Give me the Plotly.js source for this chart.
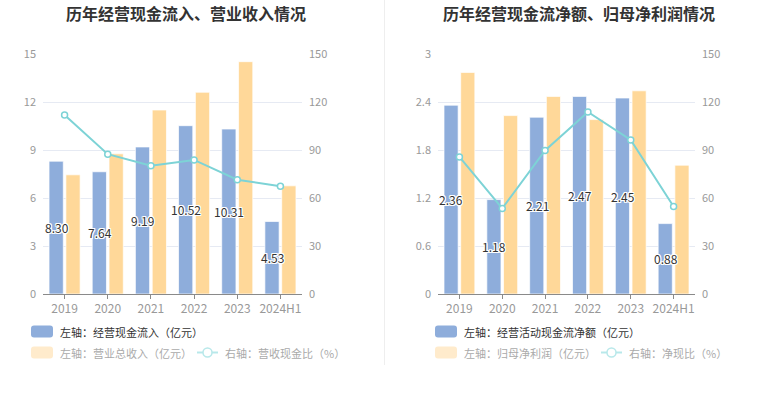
<!DOCTYPE html>
<html>
<head>
<meta charset="utf-8">
<script src="https://cdn.plot.ly/plotly-3.0.1.min.js"></script>
<style>html,body{margin:0;padding:0;background:#fff;}#chart{width:765px;height:393px;}</style>
</head>
<body>
<div id="chart"></div>
<script>
// ---------- data ----------
const categories = ['2019', '2020', '2021', '2022', '2023', '2024H1'];

// Left chart
const cashInflow = [8.30, 7.64, 9.19, 10.52, 10.31, 4.53];       // 经营现金流入（亿元）
const totalRevenue = [7.45, 8.76, 11.50, 12.61, 14.52, 6.76];    // 营业总收入（亿元）
const cashRevenueRatio = [111.9, 87.4, 80.1, 83.8, 71.4, 67.4];  // 营收现金比（%）

// Right chart
const netOperatingCash = [2.36, 1.18, 2.21, 2.47, 2.45, 0.88];   // 经营活动现金流净额（亿元）
const netProfitParent = [2.77, 2.23, 2.47, 2.18, 2.54, 1.61];    // 归母净利润（亿元）
const netCashRatio = [85.7, 53.5, 89.7, 113.8, 96.3, 54.7];      // 净现比（%）

const titles = ['历年经营现金流入、营业收入情况', '历年经营现金流净额、归母净利润情况'];
const legendLeft = ['左轴：经营现金流入（亿元）', '左轴：营业总收入（亿元）', '右轴：营收现金比（%）'];
const legendRight = ['左轴：经营活动现金流净额（亿元）', '左轴：归母净利润（亿元）', '右轴：净现比（%）'];

// ---------- styles ----------
const W = 765, H = 393;
const FONT = '"Noto Sans CJK SC", "Noto Sans", sans-serif';
const BLUE = '#8EADDB', ORANGE = '#FFD899', CYAN = '#7DD3D6';
const BLUE_LEG = '#8EADDB', ORANGE_LEG = '#FFEBCC', CYAN_LEG = '#B8E8EA';
const GRID = '#E6EAF3', AXIS = '#8A8A8A', TICK = '#999999';
const px = x => x / W;
const py = y => (H - y) / H;

const BAR_W = 0.33, OFF_A = -0.36, OFF_B = 0.03;

function barTrace(y, color, xa, ya) {
  return {type: 'bar', x: categories, y: y, xaxis: xa, yaxis: ya,
    width: BAR_W, offset: color === BLUE ? OFF_A : OFF_B,
    marker: {color: color, line: {color: 'rgba(255,255,255,0.7)', width: 1}},
    showlegend: false, hoverinfo: 'skip'};
}
function lineTrace(y, xa, ya) {
  return {type: 'scatter', mode: 'lines+markers', x: categories, y: y, xaxis: xa, yaxis: ya,
    line: {color: CYAN, width: 2},
    marker: {symbol: 'circle', size: 6, color: '#fff', line: {color: CYAN, width: 1.5}},
    showlegend: false, hoverinfo: 'skip'};
}

const data = [
  barTrace(cashInflow, BLUE, 'x', 'y'),
  barTrace(totalRevenue, ORANGE, 'x', 'y'),
  lineTrace(cashRevenueRatio, 'x', 'y3'),
  barTrace(netOperatingCash, BLUE, 'x2', 'y2'),
  barTrace(netProfitParent, ORANGE, 'x2', 'y2'),
  lineTrace(netCashRatio, 'x2', 'y4'),
];

const yDom = [py(294), py(54)];
const tickFont = {family: FONT, size: 11, color: TICK};
const xTickFont = {family: FONT, size: 12, color: TICK};

function xAxis(domain, anchor) {
  return {domain: domain, anchor: anchor, type: 'category', range: [-0.5, 5.5],
    showline: true, linecolor: AXIS, linewidth: 1, ticks: 'outside', ticklen: 4, tickcolor: AXIS,
    tickfont: xTickFont, showgrid: false, zeroline: false, fixedrange: true};
}
function yLeft(range, dtick, anchor) {
  return {domain: yDom, anchor: anchor, range: range, dtick: dtick, tick0: 0,
    showgrid: true, gridcolor: GRID, gridwidth: 1, zeroline: false, showline: false,
    ticks: '', tickfont: tickFont, ticklabelstandoff: 6, fixedrange: true};
}
function yRight(overlay, anchor) {
  return {overlaying: overlay, side: 'right', anchor: anchor, range: [0, 150], dtick: 30, tick0: 0,
    showgrid: false, zeroline: false, showline: false, ticks: '',
    tickfont: tickFont, ticklabelstandoff: 6, fixedrange: true};
}

const annotations = [];
const shapes = [];

// titles
[[186, titles[0]], [579, titles[1]]].forEach(([cx, t]) => {
  annotations.push({xref: 'paper', yref: 'paper', x: px(cx), y: py(13), xanchor: 'center', yanchor: 'middle',
    text: '<b>' + t + '</b>', showarrow: false, font: {family: FONT, size: 16, color: '#333'}});
});

// value labels inside blue bars (x given as category index)
const halo = '1px 1px 0 #fff, -1px -1px 0 #fff, 1px -1px 0 #fff, -1px 1px 0 #fff, 0 1px 0 #fff, 0 -1px 0 #fff, 1px 0 0 #fff, -1px 0 0 #fff';
function valueLabels(vals, xr, yr) {
  vals.forEach((v, i) => {
    annotations.push({xref: xr, yref: yr, x: i, y: v / 2, xshift: -8,
      text: v.toFixed(2), showarrow: false, xanchor: 'center', yanchor: 'middle',
      font: {family: FONT, size: 12, color: '#333', shadow: halo}});
  });
}
valueLabels(cashInflow, 'x', 'y');
valueLabels(netOperatingCash, 'x2', 'y2');

// divider
shapes.push({type: 'line', xref: 'paper', yref: 'paper', x0: px(384.5), x1: px(384.5), y0: py(0), y1: py(365),
  line: {color: '#EEEEEE', width: 1}});

// custom legends
function roundRect(x0, y0, x1, y1, r) {
  const X = v => px(v), Y = v => py(v);
  return `M${X(x0 + r)},${Y(y0)} L${X(x1 - r)},${Y(y0)} Q${X(x1)},${Y(y0)} ${X(x1)},${Y(y0 + r)} ` +
         `L${X(x1)},${Y(y1 - r)} Q${X(x1)},${Y(y1)} ${X(x1 - r)},${Y(y1)} L${X(x0 + r)},${Y(y1)} ` +
         `Q${X(x0)},${Y(y1)} ${X(x0)},${Y(y1 - r)} L${X(x0)},${Y(y0 + r)} Q${X(x0)},${Y(y0)} ${X(x0 + r)},${Y(y0)} Z`;
}
function legendBlock(x0, lineX, labels) {
  const row1 = 331.5, row2 = 352.5;
  shapes.push({type: 'path', xref: 'paper', yref: 'paper', path: roundRect(x0, row1 - 6, x0 + 22, row1 + 6, 3),
    fillcolor: BLUE_LEG, line: {width: 0}});
  shapes.push({type: 'path', xref: 'paper', yref: 'paper', path: roundRect(x0, row2 - 6, x0 + 22, row2 + 6, 3),
    fillcolor: ORANGE_LEG, line: {width: 0}});
  annotations.push({xref: 'paper', yref: 'paper', x: px(x0 + 27), y: py(row1), xanchor: 'left', yanchor: 'middle',
    text: labels[0], showarrow: false, font: {family: FONT, size: 11, color: '#333'}});
  annotations.push({xref: 'paper', yref: 'paper', x: px(x0 + 27), y: py(row2), xanchor: 'left', yanchor: 'middle',
    text: labels[1], showarrow: false, font: {family: FONT, size: 11, color: '#AAAAAA'}});
  shapes.push({type: 'line', xref: 'paper', yref: 'paper', x0: px(lineX), x1: px(lineX + 21), y0: py(row2), y1: py(row2),
    line: {color: CYAN_LEG, width: 2}});
  shapes.push({type: 'circle', xref: 'paper', yref: 'paper', x0: px(lineX + 6), x1: px(lineX + 15),
    y0: py(row2 - 4.5), y1: py(row2 + 4.5), fillcolor: '#fff', line: {color: CYAN_LEG, width: 1.5}});
  annotations.push({xref: 'paper', yref: 'paper', x: px(lineX + 26), y: py(row2), xanchor: 'left', yanchor: 'middle',
    text: labels[2], showarrow: false, font: {family: FONT, size: 11, color: '#AAAAAA'}});
}
legendBlock(31, 197, legendLeft);
legendBlock(435, 601, legendRight);

const layout = {
  width: W, height: H, margin: {l: 0, r: 0, t: 0, b: 0},
  paper_bgcolor: '#fff', plot_bgcolor: 'rgba(0,0,0,0)',
  font: {family: FONT, size: 11, color: '#333'},
  barmode: 'overlay', showlegend: false,
  xaxis: xAxis([px(43), px(302)], 'y'),
  xaxis2: xAxis([px(438), px(695)], 'y2'),
  yaxis: yLeft([0, 15], 3, 'x'),
  yaxis2: yLeft([0, 3], 0.6, 'x2'),
  yaxis3: yRight('y', 'x'),
  yaxis4: yRight('y2', 'x2'),
  annotations: annotations,
  shapes: shapes,
};
layout.yaxis2.tickformat = '.1~f';

Plotly.newPlot('chart', data, layout, {displayModeBar: false, staticPlot: true});
</script>
</body>
</html>
